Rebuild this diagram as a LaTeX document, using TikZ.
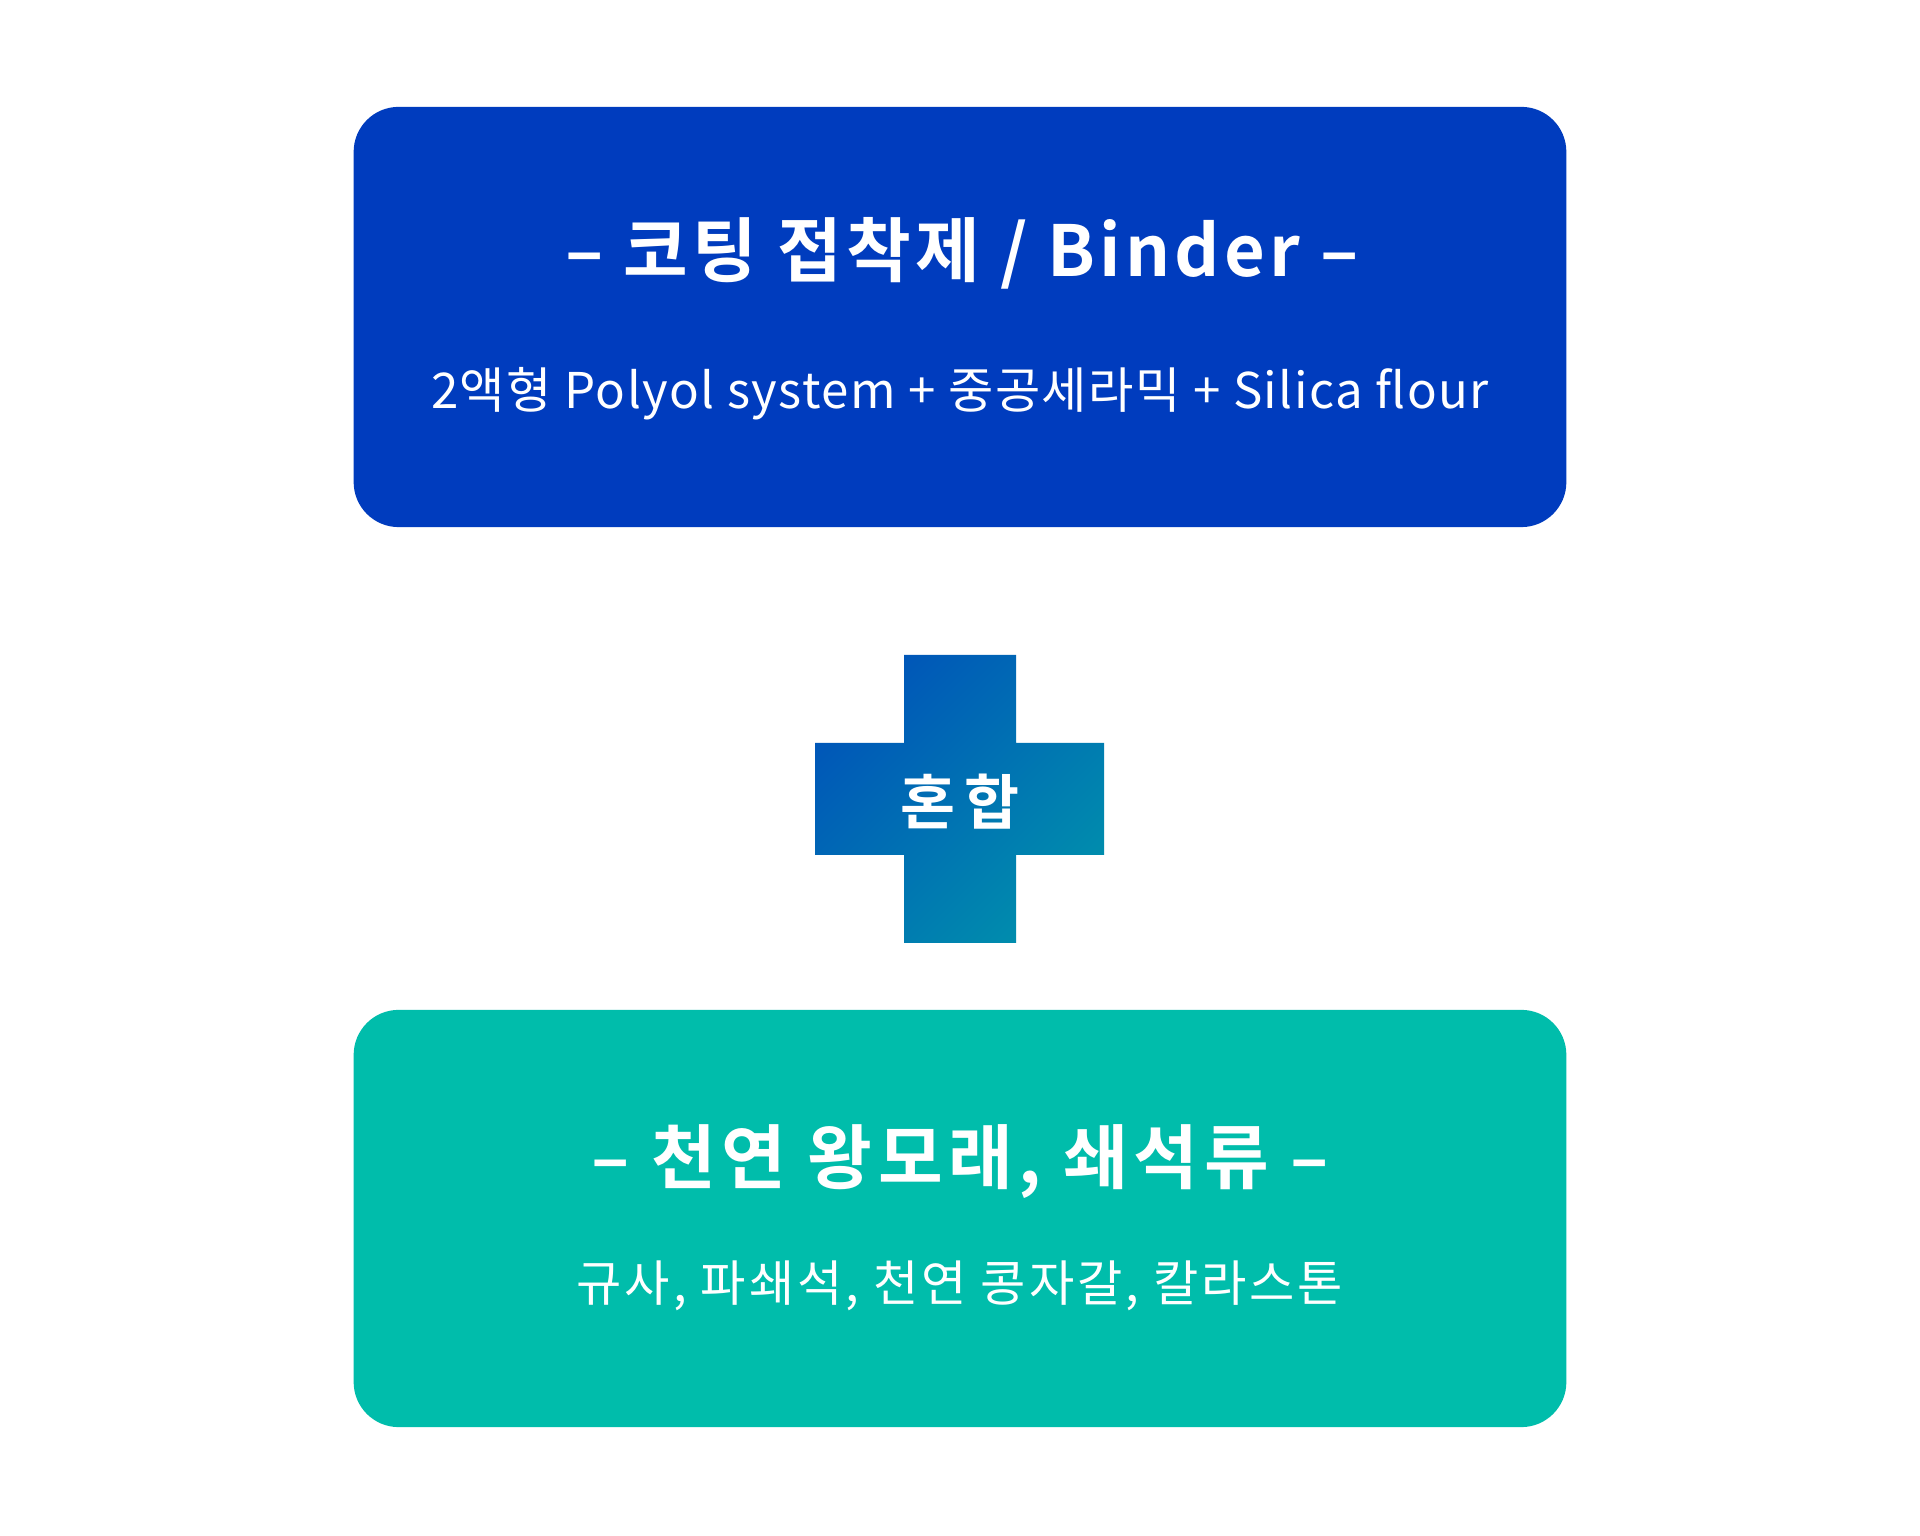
\documentclass[tikz,border=0pt]{standalone}
\usepackage{fontspec}
\setmainfont{Noto Sans CJK KR}[BoldFont={Noto Sans CJK KR Bold}]
\usetikzlibrary{positioning}
\definecolor{binderblue}{HTML}{003CBE}
\definecolor{sandgreen}{HTML}{00BDAB}
\definecolor{mixtop}{HTML}{0056B8}
\definecolor{mixbot}{HTML}{008DAD}

\begin{document}
\begin{tikzpicture}[x=0.01cm,y=0.01cm,text=white,
  panel/.style={rectangle,rounded corners=0.45cm,minimum width=12.12cm,inner sep=0pt},
  head/.style={font=\fontsize{20}{24}\selectfont\bfseries\addfontfeatures{LetterSpace=6},inner sep=0pt},
  sub/.style={font=\fontsize{14}{17}\selectfont\addfontfeatures{LetterSpace=6},inner sep=0pt}]
\path[use as bounding box] (0,0) rectangle (1920,1536);
\fill[white] (0,0) rectangle (1920,1536);

% 코팅 접착제 상자
\node[panel,fill=binderblue,minimum height=4.2cm] (binder) at (960,1219) {};
\node[head] (bindertitle) at (962,1283) {– 코팅 접착제 / Binder –};
\node[sub,font=\fontsize{14}{17}\selectfont\addfontfeatures{LetterSpace=3}] (bindersub) at (960,1142) {2액형 Polyol system + 중공세라믹 + Silica flour};

% 혼합 십자
\path[top color=mixtop,bottom color=mixbot,shading angle=45]
  (904,881) -- (1016,881) -- (1016,793) -- (1104,793) -- (1104,681)
  -- (1016,681) -- (1016,593) -- (904,593) -- (904,681) -- (815,681)
  -- (815,793) -- (904,793) -- cycle;
\node[head,font=\fontsize{17}{20}\selectfont\bfseries] (mix) at (960,734) {혼\,합};

% 천연 왕모래 상자
\node[panel,fill=sandgreen,minimum height=4.17cm] (sand) at (960,317.5) {};
\node[head,font=\fontsize{20}{24}\selectfont\bfseries\addfontfeatures{LetterSpace=8}] (sandtitle) at (960,374) {– 천연 왕모래, 쇄석류 –};
\node[sub] (sandsub) at (960,250) {규사, 파쇄석, 천연 콩자갈, 칼라스톤};
\end{tikzpicture}
\end{document}
